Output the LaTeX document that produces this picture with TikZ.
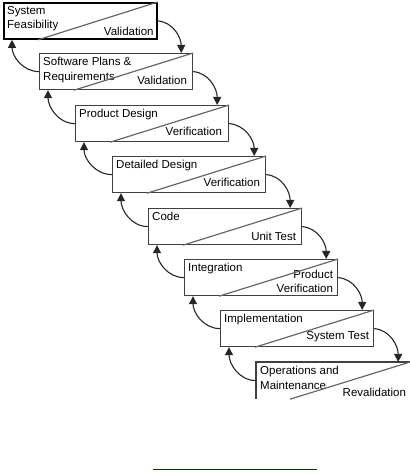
\documentclass[tikz,border=0pt]{standalone}
\usepackage{fontspec}
\setmainfont{Liberation Sans}
\usetikzlibrary{arrows.meta}

\begin{document}
\begin{tikzpicture}[x=1pt, y=1pt,
  phase/.style={draw=black!75, line width=1.2pt, minimum width=153pt, minimum height=36pt, inner sep=0pt, anchor=north west},
  phasename/.style={anchor=north west, align=left, inner sep=0pt, font=\fontsize{11.5}{14.5}\selectfont},
  phasecheck/.style={anchor=south east, align=right, inner sep=0pt, font=\fontsize{11.5}{14.5}\selectfont},
  split/.style={draw=black!60, line width=1.2pt},
  fwd/.style={-{Triangle[length=8pt,width=8pt]}, line width=1.1pt, draw=black!85},
  back/.style={-{Triangle[length=8pt,width=8pt]}, line width=1.1pt, draw=black!85}]
\useasboundingbox (0,0) rectangle (410,472);

% the eight phases, stepping down the page
\node[phase, draw=black, line width=1.8pt] (feas) at (3,470) {};
\node[phase] (reqs) at (39,419) {};
\node[phase] (prod) at (75,367) {};
\node[phase] (detl) at (112,316) {};
\node[phase] (code) at (148,264) {};
\node[phase] (intg) at (184,213) {};
\node[phase] (impl) at (220,162) {};
\node[phase, draw=none] (oper) at (256,110) {};

% phase names
\node[phasename] (feasname) at ([shift={(4,-4)}]feas.north west) {System\\Feasibility};
\node[phasename] (reqsname) at ([shift={(4,-4)}]reqs.north west) {Software Plans \&\\Requirements};
\node[phasename] (prodname) at ([shift={(4,-4)}]prod.north west) {Product Design};
\node[phasename] (detlname) at ([shift={(4,-4)}]detl.north west) {Detailed Design};
\node[phasename] (codename) at ([shift={(4,-4)}]code.north west) {Code};
\node[phasename] (intgname) at ([shift={(4,-4)}]intg.north west) {Integration};
\node[phasename] (implname) at ([shift={(4,-4)}]impl.north west) {Implementation};
\node[phasename] (opername) at ([shift={(4,-4)}]oper.north west) {Operations and\\Maintenance};

% checks
\node[phasecheck] (feascheck) at ([shift={(-4,4)}]feas.south east) {Validation};
\node[phasecheck] (reqscheck) at ([shift={(-6,5)}]reqs.south east) {Validation};
\node[phasecheck] (prodcheck) at ([shift={(-7,6)}]prod.south east) {Verification};
\node[phasecheck] (detlcheck) at ([shift={(-6,6)}]detl.south east) {Verification};
\node[phasecheck] (codecheck) at ([shift={(-6,4)}]code.south east) {Unit Test};
\node[phasecheck] (intgcheck) at ([shift={(-5,3)}]intg.south east) {Product\\Verification};
\node[phasecheck] (implcheck) at ([shift={(-5,5)}]impl.south east) {System Test};
\node[phasecheck] (opercheck) at ([shift={(-4,2)}]oper.south east) {Revalidation};

% last box only partly shown
\draw[draw=black!75, line width=1.2pt] (oper.south west) -- (oper.north west) -- (oper.north east) -- ++(0,-6);

% diagonals
\draw[split] ([xshift=35pt]feas.south west) -- (feas.north east);
\draw[split] ([xshift=35pt]reqs.south west) -- (reqs.north east);
\draw[split] ([xshift=35pt]prod.south west) -- (prod.north east);
\draw[split] ([xshift=35pt]detl.south west) -- (detl.north east);
\draw[split] ([xshift=35pt]code.south west) -- (code.north east);
\draw[split] ([xshift=35pt]intg.south west) -- (intg.north east);
\draw[split] ([xshift=35pt]impl.south west) -- (impl.north east);
\draw[split] ([xshift=34pt]oper.south west) -- (oper.north east);

% forward steps
\draw[fwd] (feas.east) to[out=-5, in=90] ([xshift=-12pt]reqs.north east);
\draw[fwd] (reqs.east) to[out=-5, in=90] ([xshift=-12pt]prod.north east);
\draw[fwd] (prod.east) to[out=-5, in=90] ([xshift=-12pt]detl.north east);
\draw[fwd] (detl.east) to[out=-5, in=90] ([xshift=-12pt]code.north east);
\draw[fwd] (code.east) to[out=-5, in=90] ([xshift=-12pt]intg.north east);
\draw[fwd] (intg.east) to[out=-5, in=90] ([xshift=-12pt]impl.north east);
\draw[fwd] (impl.east) to[out=-5, in=90] ([xshift=-12pt]oper.north east);

% feedback steps
\draw[back] (reqs.west) to[out=180, in=-90] ([xshift=9pt]feas.south west);
\draw[back] (prod.west) to[out=180, in=-90] ([xshift=9pt]reqs.south west);
\draw[back] (detl.west) to[out=180, in=-90] ([xshift=9pt]prod.south west);
\draw[back] (code.west) to[out=180, in=-90] ([xshift=9pt]detl.south west);
\draw[back] (intg.west) to[out=180, in=-90] ([xshift=9pt]code.south west);
\draw[back] (impl.west) to[out=180, in=-90] ([xshift=9pt]intg.south west);
\draw[back] (oper.west) to[out=180, in=-90] ([xshift=9pt]impl.south west);

% link underline
\draw[draw={rgb,255:red,0;green,0;blue,255}, line width=1.4pt] (153,2.5) -- (317,2.5);
\end{tikzpicture}
\end{document}
